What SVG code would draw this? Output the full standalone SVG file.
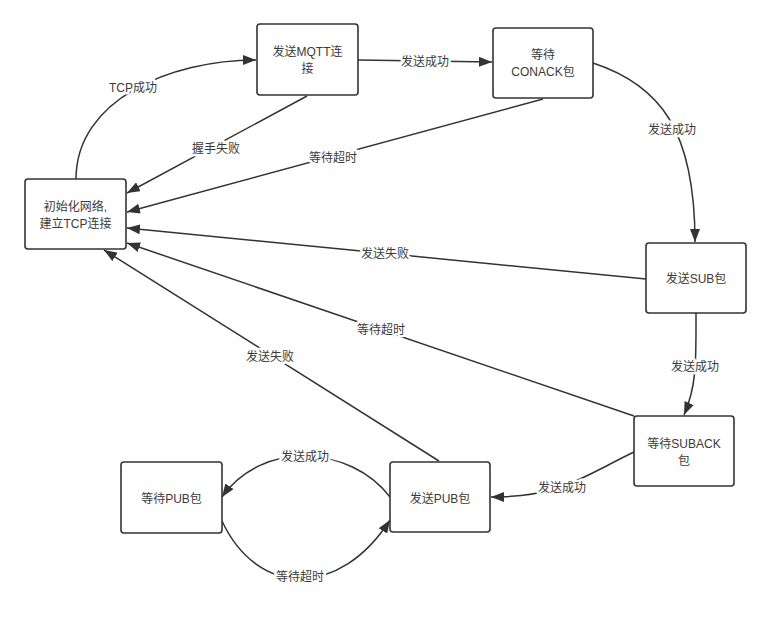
<svg xmlns="http://www.w3.org/2000/svg" width="771" height="618" viewBox="0 0 771 618">
<style>
.node rect{fill:#fff;stroke:#333;stroke-width:1.6}
text{font-family:"Liberation Sans","Noto Sans CJK SC",sans-serif;font-size:12px;fill:#3a3a3a;text-anchor:middle;dominant-baseline:central}
.edge path{fill:none;stroke:#333;stroke-width:1.5;marker-end:url(#arr)}
.lbl{paint-order:stroke;stroke:#fff;stroke-width:5px;stroke-linejoin:round}
</style>
<defs>
<marker id="arr" viewBox="0 0 13 10" refX="13" refY="5" markerWidth="13" markerHeight="10" markerUnits="userSpaceOnUse" orient="auto">
<path d="M0,0 L13,5 L0,10 Z" fill="#333"/>
</marker>
</defs>
<rect width="771" height="618" fill="#fff"/>
<g id="connectors" class="edge">
<path d="M76,179 C76,100 170,60 256,60"/>
<path d="M358,60 L492,62"/>
<path d="M307,96 L127,193"/>
<path d="M543,99 L127,212"/>
<path d="M593,63 C660,85 695,130 695,242"/>
<path d="M646,279 L127,228"/>
<path d="M696,313 C696,360 697,385 684,415"/>
<path d="M634,416 L127,243"/>
<path d="M634,452 C580,478 560,497 491,497"/>
<path d="M439,461 L104,250"/>
<path d="M390,497 C350,445 262,440 222,497"/>
<path d="M222,521 C258,598 340,598 390,520"/>
</g>
<g id="labels">
<text class="lbl" x="133" y="88">TCP成功</text>
<text class="lbl" x="425" y="62">发送成功</text>
<text class="lbl" x="216" y="149">握手失败</text>
<text class="lbl" x="333" y="158">等待超时</text>
<text class="lbl" x="672" y="130">发送成功</text>
<text class="lbl" x="385" y="254">发送失败</text>
<text class="lbl" x="695" y="367">发送成功</text>
<text class="lbl" x="381" y="330">等待超时</text>
<text class="lbl" x="562" y="488">发送成功</text>
<text class="lbl" x="270" y="357">发送失败</text>
<text class="lbl" x="305" y="457">发送成功</text>
<text class="lbl" x="300" y="577">等待超时</text>
</g>
<g id="n_init" class="node">
<rect x="25" y="179" width="101" height="70" rx="3"/>
<text x="75.5" y="207">初始化网络,</text>
<text x="75.5" y="224">建立TCP连接</text>
</g>
<g id="n_mqtt" class="node">
<rect x="257" y="24" width="101" height="71" rx="3"/>
<text x="307.5" y="52">发送MQTT连</text>
<text x="307.5" y="69">接</text>
</g>
<g id="n_conack" class="node">
<rect x="493" y="28" width="100" height="70" rx="3"/>
<text x="543" y="55">等待</text>
<text x="543" y="72">CONACK包</text>
</g>
<g id="n_sub" class="node">
<rect x="646" y="243" width="100" height="70" rx="3"/>
<text x="696" y="279">发送SUB包</text>
</g>
<g id="n_suback" class="node">
<rect x="634" y="416" width="100" height="70" rx="3"/>
<text x="684" y="444">等待SUBACK</text>
<text x="684" y="461">包</text>
</g>
<g id="n_pub" class="node">
<rect x="390" y="462" width="100" height="70" rx="3"/>
<text x="440" y="499">发送PUB包</text>
</g>
<g id="n_waitpub" class="node">
<rect x="121" y="462" width="101" height="71" rx="3"/>
<text x="171.5" y="499">等待PUB包</text>
</g>
</svg>
